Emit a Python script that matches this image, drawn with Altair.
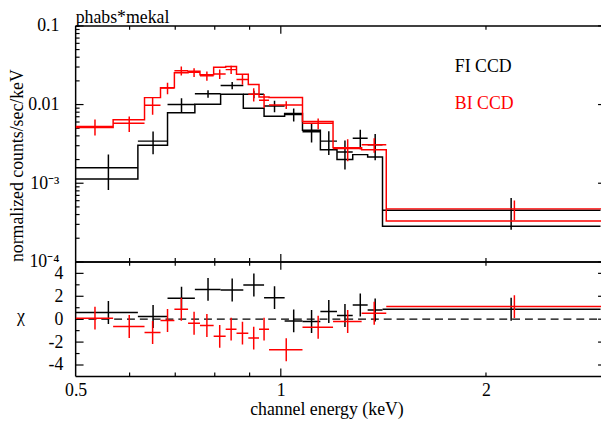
import altair as alt
import pandas as pd

# ---------------- data ----------------
# FI CCD (black): bin edges (keV), rate, 1-sigma error, model, chi
fi_lo = [0.500, 0.617, 0.682, 0.748, 0.816, 0.881, 0.945, 1.013, 1.076, 1.143, 1.209, 1.275, 1.341, 1.410]
fi_hi = [0.617, 0.682, 0.748, 0.816, 0.881, 0.945, 1.013, 1.076, 1.143, 1.209, 1.275, 1.341, 1.410, 2.945]
fi_rate = [1.57e-3, 3.43e-3, 0.0100, 0.0137, 0.0175, 0.0135, 0.0096, 0.0075, 0.0045, 0.00343, 0.00249, 0.00374, 0.00309, 0.000454]
fi_err = [7.5e-4, 1.1e-3, 2.0e-3, 1.5e-3, 1.8e-3, 1.5e-3, 1.6e-3, 1.4e-3, 1.2e-3, 1.15e-3, 1.0e-3, 1.03e-3, 1.13e-3, 1.97e-4]
fi_model = [1.135e-3, 3.03e-3, 7.85e-3, 0.0101, 0.0135, 0.0090, 0.0071, 0.0077, 0.0047, 0.00267, 0.0020, 0.00231, 0.00216, 0.000283]
fi_chi = [0.58, 0.23, 1.83, 2.6, 2.55, 2.98, 1.88, -0.15, -0.2, 0.67, 0.32, 1.24, 0.8, 0.87]

# BI CCD (red)
bi_lo = [0.500, 0.5675, 0.631, 0.666, 0.698, 0.731, 0.761, 0.797, 0.830, 0.861, 0.896, 0.929, 0.961, 1.076, 1.193, 1.314, 1.428]
bi_hi = [0.5675, 0.631, 0.666, 0.698, 0.731, 0.761, 0.797, 0.830, 0.861, 0.896, 0.929, 0.961, 1.076, 1.193, 1.314, 1.428, 2.975]
bi_rate = [5.25e-3, 5.77e-3, 9.8e-3, 0.0162, 0.0269, 0.0257, 0.0232, 0.0245, 0.0278, 0.0208, 0.0135, 0.01135, 0.0099, 5.77e-3, 2.76e-3, 3.09e-3, 4.72e-4]
bi_err = [1.2e-3, 1.3e-3, 2.4e-3, 2.7e-3, 3.5e-3, 3.3e-3, 3.2e-3, 3.4e-3, 3.4e-3, 3.0e-3, 2.6e-3, 2.3e-3, 1.1e-3, 0.9e-3, 0.86e-3, 0.65e-3, 1.33e-4]
bi_model = [5.1e-3, 6.43e-3, 0.01225, 0.0163, 0.0254, 0.0265, 0.0240, 0.0297, 0.0305, 0.0242, 0.0180, 0.01247, 0.0123, 6.07e-3, 2.83e-3, 2.67e-3, 3.3e-4]
bi_chi = [0.09, -0.64, -1.16, -0.12, 0.87, -0.35, -0.55, -1.5, -0.87, -1.22, -1.65, -0.87, -2.67, -0.7, -0.2, 0.52, 1.1]

# axis ticks / labels
x_label_vals = [0.5, 1, 2]
x_major_ticks = [1.0]
x_minor_ticks = [0.6, 0.7, 0.8, 0.9, 2.0]
y_decades = [1e-4, 1e-3, 1e-2, 1e-1]
y_minor_mult = [2, 3, 4, 5, 6, 7, 8, 9]
chi_major = [-4, -2, 0, 2, 4]
chi_minor = [-3, -1, 1, 3]

# ---------------- styling ----------------
FONT = "'Liberation Serif', 'Times New Roman', Times, serif"
W, H1, H2 = 532, 239, 116
BLACK, RED = "#000000", "#ff0000"
LW = 1.5
MAJ, MIN = 8, 4
# invisible layout anchor (outside every text), and padding that pulls it off-page
AX, AY = -90, -40
PAD_L, PAD_T = 69 + AX - 0.5, 16 + AY - 0.5

xs = alt.Scale(type="log", domain=[0.5, 2.95], nice=False)
ys = alt.Scale(type="log", domain=[1e-4, 0.1], nice=False)
cs = alt.Scale(domain=[-5, 5], nice=False)

font_kw = dict(labelFont=FONT, titleFont=FONT, labelFontSize=18, titleFontSize=18,
               labelColor=BLACK, titleColor=BLACK, titleFontWeight="normal")

y_axis_top = alt.Axis(
    values=y_decades, ticks=False, domain=False, grid=False, labelFlush=False,
    labelExpr="datum.value < 0.0005 ? '10⁻⁴' : datum.value < 0.005 ? '10⁻³' : datum.value < 0.05 ? '0.01' : '0.1'",
    labelPadding=17, title="normalized counts/sec/keV", titleAngle=270,
    titleX=-59, titleY=141, titleAlign="center", titleBaseline="middle", **font_kw,
)
x_axis_bot = alt.Axis(
    values=x_label_vals, ticks=False, domain=False, grid=False, labelFlush=False,
    labelExpr="toString(datum.value)", labelPadding=5,
    title="channel energy (keV)", titleX=254, titleY=34, titleAlign="center", titleBaseline="middle",
    **font_kw,
)
chi_axis = alt.Axis(
    values=chi_major, ticks=False, domain=False, grid=False, labelFlush=False,
    labelExpr="toString(datum.value)", labelPadding=13,
    title="χ", titleAngle=0, titleX=-56, titleY=55, titleAlign="center", titleBaseline="middle",
    **font_kw,
)

one = pd.DataFrame({"k": [0]})


def frame(h):
    left = alt.Chart(one).mark_rule(color=BLACK, strokeWidth=LW).encode(
        x=alt.value(0), y=alt.value(0), y2=alt.value(h))
    top = alt.Chart(one).mark_rule(color=BLACK, strokeWidth=LW).encode(
        x=alt.value(0), x2=alt.value(W), y=alt.value(0))
    bot = alt.Chart(one).mark_rule(color=BLACK, strokeWidth=LW).encode(
        x=alt.value(0), x2=alt.value(W), y=alt.value(h))
    return [left, top, bot]


def xticks(vals, h, length, axis):
    df = pd.DataFrame({"v": vals})
    up = alt.Chart(df).mark_rule(color=BLACK, strokeWidth=1.2).encode(
        x=alt.X("v:Q", scale=xs, axis=axis), y=alt.value(0), y2=alt.value(length))
    dn = alt.Chart(df).mark_rule(color=BLACK, strokeWidth=1.2).encode(
        x=alt.X("v:Q", scale=xs, axis=axis), y=alt.value(h - length), y2=alt.value(h))
    return [up, dn]


def yticks(vals, scale, axis, length, right=True):
    df = pd.DataFrame({"v": vals})
    out = [alt.Chart(df).mark_rule(color=BLACK, strokeWidth=1.2).encode(
        y=alt.Y("v:Q", scale=scale, axis=axis), x=alt.value(0), x2=alt.value(length))]
    if right:
        out.append(alt.Chart(df).mark_rule(color=BLACK, strokeWidth=1.2).encode(
            y=alt.Y("v:Q", scale=scale, axis=axis), x=alt.value(W - 3), x2=alt.value(W)))
    return out


def spec_frame(lo, hi, rate, err, model, chi):
    mid = [(a + b) / 2 for a, b in zip(lo, hi)]
    return pd.DataFrame({
        "lo": lo, "hi": hi, "mid": mid, "rate": rate,
        "rlo": [r - e for r, e in zip(rate, err)],
        "rhi": [r + e for r, e in zip(rate, err)],
        "model": model, "chi": chi,
        "clo": [c - 1 for c in chi], "chi_hi": [c + 1 for c in chi],
    })


def step_frame(lo, hi, model):
    return pd.DataFrame({"e": lo + [hi[-1]], "m": model + [model[-1]]})


fi = spec_frame(fi_lo, fi_hi, fi_rate, fi_err, fi_model, fi_chi)
bi = spec_frame(bi_lo, bi_hi, bi_rate, bi_err, bi_model, bi_chi)


def top_series(df, lo, hi, model, color):
    line = alt.Chart(step_frame(lo, hi, model)).mark_line(
        color=color, strokeWidth=LW, interpolate="step-after", clip=True).encode(
        x=alt.X("e:Q", scale=xs, axis=None),
        y=alt.Y("m:Q", scale=ys, axis=y_axis_top))
    hbar = alt.Chart(df).mark_rule(color=color, strokeWidth=LW, clip=True).encode(
        x=alt.X("lo:Q", scale=xs, axis=None), x2="hi:Q",
        y=alt.Y("rate:Q", scale=ys, axis=y_axis_top))
    vbar = alt.Chart(df).mark_rule(color=color, strokeWidth=LW, clip=True).encode(
        x=alt.X("mid:Q", scale=xs, axis=None),
        y=alt.Y("rlo:Q", scale=ys, axis=y_axis_top), y2="rhi:Q")
    return [line, hbar, vbar]


def bot_series(df, color):
    hbar = alt.Chart(df).mark_rule(color=color, strokeWidth=LW, clip=True).encode(
        x=alt.X("lo:Q", scale=xs, axis=x_axis_bot), x2="hi:Q",
        y=alt.Y("chi:Q", scale=cs, axis=chi_axis))
    vbar = alt.Chart(df).mark_rule(color=color, strokeWidth=LW, clip=True).encode(
        x=alt.X("mid:Q", scale=xs, axis=x_axis_bot),
        y=alt.Y("clo:Q", scale=cs, axis=chi_axis), y2="chi_hi:Q")
    return [hbar, vbar]


# minor y tick positions on the log axis
y_minor_vals = [m * d for d in y_decades[:-1] for m in y_minor_mult]


def label(txt, x, y, color, baseline="middle"):
    return alt.Chart(pd.DataFrame({"t": [txt]})).mark_text(
        font=FONT, fontSize=18, align="left", baseline=baseline, color=color).encode(
        x=alt.value(x), y=alt.value(y), text="t:N")


anchor = alt.Chart(one).mark_rule(color="white", opacity=0, strokeWidth=1).encode(
    x=alt.value(AX), y=alt.value(AY), y2=alt.value(AY + 10))

top_layers = (
    [anchor]
    + frame(H1)
    + xticks(x_major_ticks, H1, MAJ, None) + xticks(x_minor_ticks, H1, MIN, None)
    + yticks(y_decades, ys, y_axis_top, MAJ) + yticks(y_minor_vals, ys, y_axis_top, MIN, right=False)
    + top_series(fi, fi_lo, fi_hi, fi_model, BLACK)
    + top_series(bi, bi_lo, bi_hi, bi_model, RED)
    + [label("phabs*mekal", 0, -3, BLACK, "alphabetic"),
       label("FI CCD", 384, 42, BLACK), label("BI CCD", 384, 79, RED)]
)
top = alt.layer(*top_layers).properties(width=W, height=H1)

zero = alt.Chart(pd.DataFrame({"z": [0]})).mark_rule(
    color=BLACK, strokeWidth=1.3, strokeDash=[8, 5]).encode(
    y=alt.Y("z:Q", scale=cs, axis=chi_axis), x=alt.value(0), x2=alt.value(W))

bot_layers = (
    frame(H2)
    + xticks(x_major_ticks, H2, MAJ, x_axis_bot) + xticks(x_minor_ticks, H2, MIN, x_axis_bot)
    + yticks(chi_major, cs, chi_axis, MAJ) + yticks(chi_minor, cs, chi_axis, MIN, right=False)
    + [zero]
    + bot_series(fi, BLACK) + bot_series(bi, RED)
)
bottom = alt.layer(*bot_layers).properties(width=W, height=H2)

chart = (
    alt.vconcat(top, bottom, spacing=0, bounds="flush")
    .properties(padding={"left": PAD_L, "top": PAD_T, "right": 0, "bottom": 0})
    .configure(font=FONT)
    .configure_view(stroke=None)
    .configure_axis(**font_kw)
)

chart.save("out.html", embed_options={"renderer": "svg", "actions": False})
